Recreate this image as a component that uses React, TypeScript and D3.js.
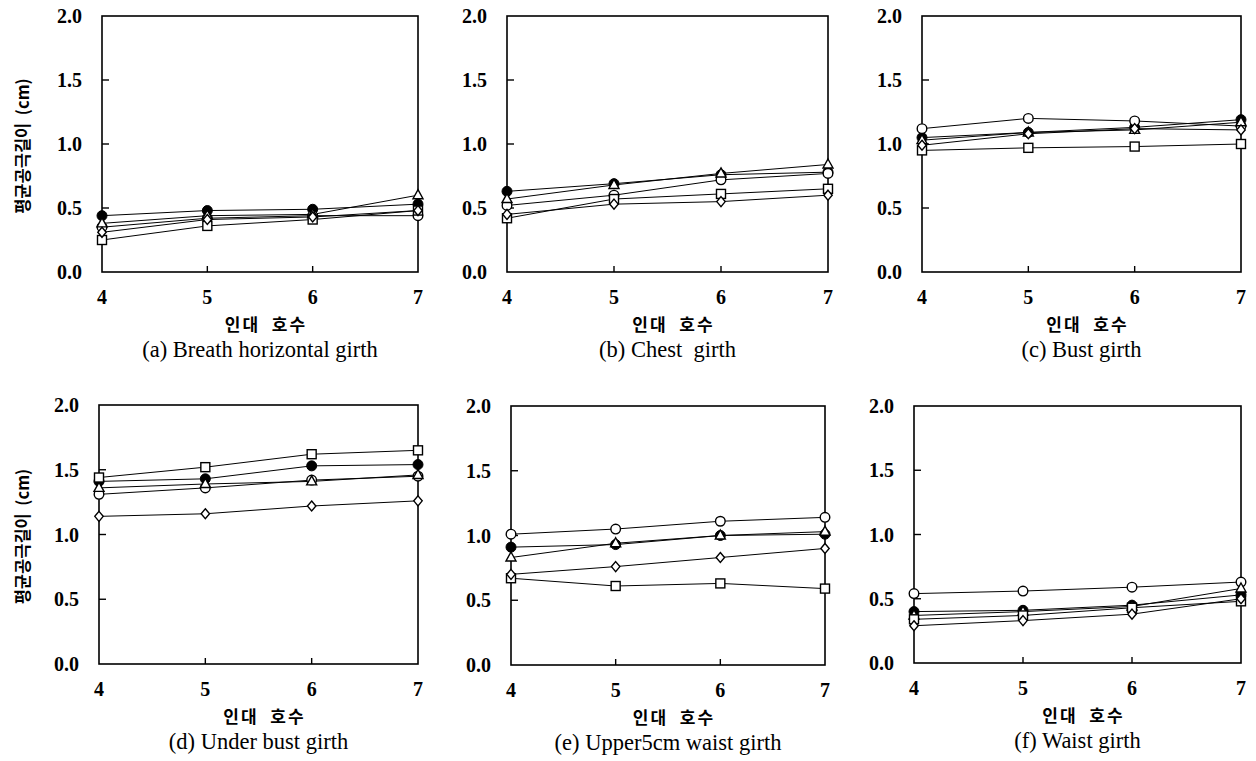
import React from "react";
import * as d3 from "d3";

// ---------- data ----------
const sizes = [4, 5, 6, 7];
const yTicks = [0, 0.5, 1.0, 1.5, 2.0];
const yLabels = ["0.0", "0.5", "1.0", "1.5", "2.0"];
const xTitle = "인대  호수";
const yTitle = "평균공극길이  (cm)";
// series order: filled circle, open circle, open triangle, open square, open diamond
const seriesMarkers = ["filledCircle", "circle", "triangle", "square", "diamond"];

const breathValues = [
  [0.44, 0.48, 0.49, 0.53],
  [0.35, 0.42, 0.44, 0.44],
  [0.38, 0.44, 0.45, 0.6],
  [0.25, 0.36, 0.41, 0.48],
  [0.31, 0.41, 0.43, 0.48],
];
const chestValues = [
  [0.63, 0.69, 0.76, 0.78],
  [0.52, 0.6, 0.72, 0.77],
  [0.57, 0.68, 0.77, 0.84],
  [0.42, 0.57, 0.61, 0.65],
  [0.45, 0.53, 0.55, 0.6],
];
const bustValues = [
  [1.05, 1.09, 1.13, 1.19],
  [1.12, 1.2, 1.18, 1.14],
  [1.03, 1.09, 1.11, 1.17],
  [0.95, 0.97, 0.98, 1.0],
  [0.99, 1.08, 1.12, 1.11],
];
const underBustValues = [
  [1.41, 1.43, 1.53, 1.54],
  [1.31, 1.36, 1.42, 1.45],
  [1.36, 1.39, 1.41, 1.46],
  [1.44, 1.52, 1.62, 1.65],
  [1.14, 1.16, 1.22, 1.26],
];
const upperWaistValues = [
  [0.91, 0.93, 1.0, 1.01],
  [1.01, 1.05, 1.11, 1.14],
  [0.83, 0.94, 1.0, 1.03],
  [0.67, 0.61, 0.63, 0.59],
  [0.7, 0.76, 0.83, 0.9],
];
const waistValues = [
  [0.4, 0.41, 0.45, 0.53],
  [0.54, 0.56, 0.59, 0.63],
  [0.37, 0.4, 0.44, 0.58],
  [0.34, 0.37, 0.43, 0.48],
  [0.29, 0.33, 0.38, 0.5],
];
const captions = [
  "(a) Breath horizontal girth",
  "(b) Chest  girth",
  "(c) Bust girth",
  "(d) Under bust girth",
  "(e) Upper5cm waist girth",
  "(f) Waist girth",
];

// ---------- layout ----------
const panels = [
  { values: breathValues, x0: 102, x1: 418, y0: 16, y1: 272, yTitle: true },
  { values: chestValues, x0: 507, x1: 828, y0: 16, y1: 272, yTitle: false },
  { values: bustValues, x0: 922, x1: 1241, y0: 16, y1: 272, yTitle: false },
  { values: underBustValues, x0: 99, x1: 418, y0: 405, y1: 664, yTitle: true },
  { values: upperWaistValues, x0: 511, x1: 825, y0: 406, y1: 665, yTitle: false },
  { values: waistValues, x0: 914, x1: 1241, y0: 406, y1: 663, yTitle: false },
];

const serif = "'Liberation Serif', 'Times New Roman', serif";
const kor = "'Noto Sans CJK KR', sans-serif";

function Marker({ type, x, y }: { type: string; x: number; y: number }) {
  const sw = 1.4;
  if (type === "filledCircle")
    return <circle cx={x} cy={y} r={5} fill="#000" stroke="#000" strokeWidth={1} />;
  if (type === "circle")
    return <circle cx={x} cy={y} r={4.8} fill="#fff" stroke="#000" strokeWidth={sw} />;
  if (type === "square")
    return <rect x={x - 4.5} y={y - 4.5} width={9} height={9} fill="#fff" stroke="#000" strokeWidth={sw} />;
  if (type === "triangle")
    return (
      <path
        d={`M${x},${y - 5.5}L${x + 5},${y + 3.5}L${x - 5},${y + 3.5}Z`}
        fill="#fff"
        stroke="#000"
        strokeWidth={sw}
      />
    );
  return (
    <path
      d={`M${x},${y - 5}L${x + 4.2},${y}L${x},${y + 5}L${x - 4.2},${y}Z`}
      fill="#fff"
      stroke="#000"
      strokeWidth={sw}
    />
  );
}

function Panel({ p, caption }: { p: (typeof panels)[number]; caption: string }) {
  const x = d3.scaleLinear().domain([4, 7]).range([p.x0, p.x1]);
  const y = d3.scaleLinear().domain([0, 2]).range([p.y1, p.y0]);
  const line = d3
    .line<number>()
    .x((_, i) => x(sizes[i]))
    .y((d) => y(d));
  const cx = (p.x0 + p.x1) / 2;
  return (
    <g>
      {/* frame */}
      <rect x={p.x0} y={p.y0} width={p.x1 - p.x0} height={p.y1 - p.y0} fill="none" stroke="#000" strokeWidth={1.6} />
      {/* y ticks */}
      {yTicks.map((t, i) => (
        <g key={"y" + i}>
          {i > 0 && i < yTicks.length - 1 && (
            <line x1={p.x0} x2={p.x0 + 7} y1={y(t)} y2={y(t)} stroke="#000" strokeWidth={1.4} />
          )}
          <text
            x={p.x0 - 20}
            y={y(t)}
            textAnchor="end"
            dominantBaseline="central"
            fontFamily={serif}
            fontWeight="bold"
            fontSize={20}
          >
            {yLabels[i]}
          </text>
        </g>
      ))}
      {/* x ticks */}
      {sizes.map((s, i) => (
        <g key={"x" + i}>
          {i > 0 && i < sizes.length - 1 && (
            <line x1={x(s)} x2={x(s)} y1={p.y1} y2={p.y1 - 6} stroke="#000" strokeWidth={1.4} />
          )}
          <text
            x={x(s)}
            y={p.y1 + 25}
            textAnchor="middle"
            dominantBaseline="central"
            fontFamily={serif}
            fontWeight="bold"
            fontSize={20}
          >
            {s}
          </text>
        </g>
      ))}
      <text
        x={cx + 6}
        y={p.y1 + 51}
        textAnchor="middle"
        dominantBaseline="central"
        fontFamily={kor}
        fontWeight="bold"
        fontSize={17}
        letterSpacing={2}
        style={{ whiteSpace: "pre" }}
      >
        {xTitle}
      </text>
      <text
        x={cx}
        y={p.y1 + 77}
        textAnchor="middle"
        dominantBaseline="central"
        fontFamily={serif}
        fontSize={22.5}
        style={{ whiteSpace: "pre" }}
      >
        {caption}
      </text>
      {p.yTitle && (
        <text
          transform={`translate(22,${(p.y0 + p.y1) / 2 + 2}) rotate(-90)`}
          textAnchor="middle"
          dominantBaseline="central"
          fontFamily={kor}
          fontWeight="bold"
          fontSize={16.5}
          style={{ whiteSpace: "pre" }}
        >
          {yTitle}
        </text>
      )}
      {/* lines */}
      {p.values.map((vals, si) => (
        <path key={"l" + si} d={line(vals) || ""} fill="none" stroke="#000" strokeWidth={1} />
      ))}
      {/* markers */}
      {p.values.map((vals, si) =>
        vals.map((v, i) => <Marker key={`m${si}-${i}`} type={seriesMarkers[si]} x={x(sizes[i])} y={y(v)} />)
      )}
    </g>
  );
}

export default function App() {
  return (
    <svg
      width={1256}
      height={761}
      style={{ position: "absolute", left: 0, top: 0, display: "block", background: "#fff" }}
    >
      <rect width={1256} height={761} fill="#fff" />
      {panels.map((p, i) => (
        <Panel key={i} p={p} caption={captions[i]} />
      ))}
    </svg>
  );
}
